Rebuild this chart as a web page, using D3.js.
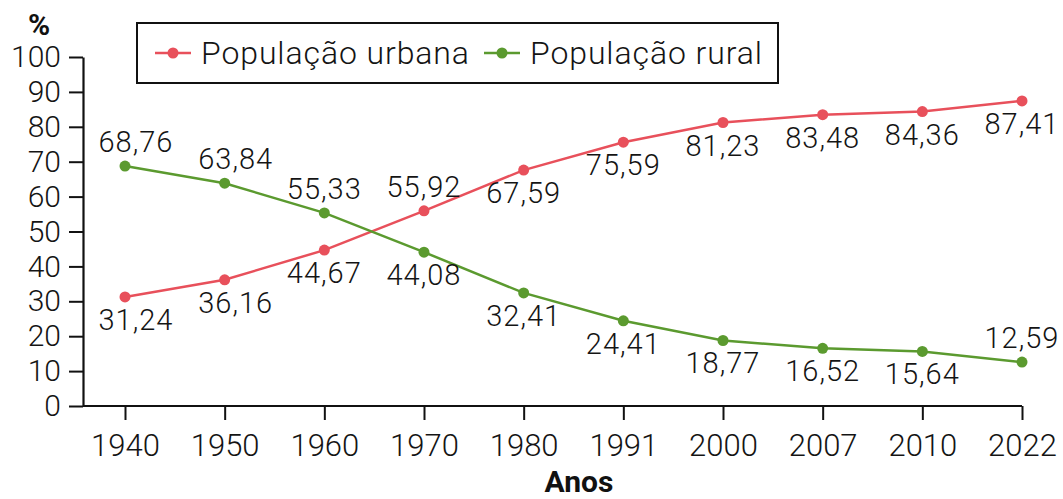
<!DOCTYPE html>
<html>
<head>
<meta charset="utf-8">
<script src="https://cdn.jsdelivr.net/npm/d3@7"></script>
<style>
  html, body { margin: 0; padding: 0; background: #fff; }
  svg { display: block; font-family: Roboto, "Liberation Sans", sans-serif; }
</style>
</head>
<body>
<svg id="chart" width="1063" height="499"></svg>
<script>
const years = ["1940", "1950", "1960", "1970", "1980", "1991", "2000", "2007", "2010", "2022"];
const urbana = [31.24, 36.16, 44.67, 55.92, 67.59, 75.59, 81.23, 83.48, 84.36, 87.41];
const rural = [68.76, 63.84, 55.33, 44.08, 32.41, 24.41, 18.77, 16.52, 15.64, 12.59];
// label placement: 1 = above, -1 = below
const urbanaPos = [-1, -1, -1, 1, -1, -1, -1, -1, -1, -1];
const ruralPos = [1, 1, 1, -1, -1, -1, -1, -1, -1, 1];
const yTicks = [0, 10, 20, 30, 40, 50, 60, 70, 80, 90, 100];
const seriesNames = ["População urbana", "População rural"];
const colors = ["#e8505b", "#5b9a2f"];

const svg = d3.select("#chart");
const x = d3.scalePoint().domain(years).range([125, 1022]);
const y = d3.scaleLinear().domain([0, 100]).range([406, 57]);
const textColor = "#141414";
const fw = 300;

// Y axis
const yAxis = svg.append("g").attr("transform", "translate(83,0)")
  .call(d3.axisLeft(y).tickValues(yTicks).tickSize(14).tickPadding(8).tickSizeOuter(0));
yAxis.select(".domain").attr("stroke", "#111").attr("stroke-width", 2.2);
yAxis.selectAll(".tick line").attr("stroke", "#111").attr("stroke-width", 2);
yAxis.selectAll(".tick text").attr("font-size", 30).attr("fill", textColor).attr("font-weight", fw)
  .attr("font-family", "Roboto, sans-serif");

// X axis
const xAxis = svg.append("g").attr("transform", "translate(0,406)")
  .call(d3.axisBottom(x).tickSize(14).tickPadding(9).tickSizeOuter(0));
xAxis.select(".domain").attr("d", "M83,0H1022").attr("stroke", "#111").attr("stroke-width", 2.2);
xAxis.selectAll(".tick line").attr("stroke", "#111").attr("stroke-width", 2);
xAxis.selectAll(".tick text").attr("font-size", 31).attr("fill", textColor).attr("font-weight", fw)
  .attr("font-family", "Roboto, sans-serif").attr("dy", "0.88em");

// Axis titles
svg.append("text").attr("x", 39).attr("y", 35).attr("text-anchor", "middle")
  .attr("font-size", 30).attr("font-weight", "bold").attr("fill", "#111").text("%");
svg.append("text").attr("x", 579).attr("y", 492).attr("text-anchor", "middle")
  .attr("font-size", 30).attr("font-weight", "bold").attr("fill", "#111").text("Anos");

const line = d3.line().x((d, i) => x(years[i])).y(d => y(d));
const fmt = v => d3.format(".2f")(v).replace(".", ",");

function drawSeries(vals, pos, color) {
  svg.append("path").datum(vals).attr("d", line).attr("fill", "none")
    .attr("stroke", color).attr("stroke-width", 2.5);
  svg.append("g").selectAll("circle").data(vals).join("circle")
    .attr("cx", (d, i) => x(years[i])).attr("cy", d => y(d)).attr("r", 5.5).attr("fill", color);
  svg.append("g").selectAll("text").data(vals).join("text")
    .attr("x", (d, i) => x(years[i]) + (i < 2 ? 11 : 0))
    .attr("y", (d, i) => y(d) + (pos[i] > 0 ? -14 : 33))
    .attr("text-anchor", "middle").attr("font-size", 29).attr("letter-spacing", 1)
    .attr("font-weight", fw).attr("fill", textColor).text(d => fmt(d));
}
drawSeries(urbana, urbanaPos, colors[0]);
drawSeries(rural, ruralPos, colors[1]);

// Legend
const lg = svg.append("g");
lg.append("rect").attr("x", 137).attr("y", 23).attr("width", 641).attr("height", 60)
  .attr("fill", "#fff").attr("stroke", "#111").attr("stroke-width", 2);
const legendItems = [{x: 155, name: seriesNames[0], color: colors[0]},
                     {x: 484, name: seriesNames[1], color: colors[1]}];
legendItems.forEach(it => {
  lg.append("line").attr("x1", it.x).attr("x2", it.x + 36).attr("y1", 53).attr("y2", 53)
    .attr("stroke", it.color).attr("stroke-width", 2.5);
  lg.append("circle").attr("cx", it.x + 18).attr("cy", 53).attr("r", 5.5).attr("fill", it.color);
  lg.append("text").attr("x", it.x + 46).attr("y", 64).attr("font-size", 32).attr("letter-spacing", 0.9)
    .attr("font-weight", fw).attr("fill", textColor).text(it.name);
});
</script>
</body>
</html>
